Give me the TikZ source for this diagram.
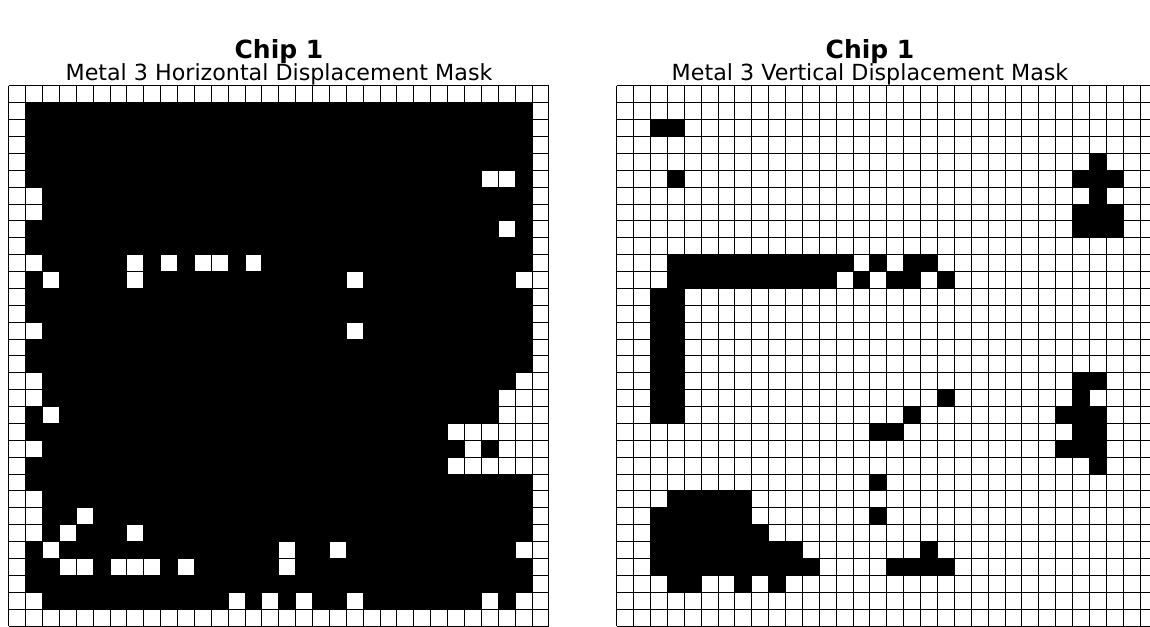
\documentclass[tikz,border=0pt]{standalone}
\usepackage{fontspec}
\setmainfont{DejaVu Sans}
\begin{document}
\begin{tikzpicture}[x=1pt,y=-1pt,
  gridline/.style={line width=0.9pt, draw=black},
  titletext/.style={font=\bfseries\fontsize{25}{28}\selectfont, text=black, anchor=base, inner sep=0pt},
  subtext/.style={font=\fontsize{22.2}{25}\selectfont, text=black, anchor=base, inner sep=0pt}]
\useasboundingbox (0,0) rectangle (1150,626);
\clip (0,0) rectangle (1150,626);
\def\cs{16.88}
% ---------- left grid ----------
\begin{scope}[shift={(8.7,85.8)}]
  \fill[black] (\cs,\cs) rectangle (31*\cs,31*\cs);
  \foreach \r/\c in {5/28,5/29,6/1,7/1,8/29,
     10/1,10/7,10/9,10/11,10/12,10/14,
     11/2,11/7,11/20,11/30,14/1,14/20,
     17/1,17/30,18/1,18/29,18/30,19/2,19/29,19/30,
     20/26,20/27,20/28,20/29,20/30,
     21/1,21/27,21/29,21/30,
     22/26,22/27,22/28,22/29,22/30,
     24/1,25/1,25/4,26/1,26/3,26/7,
     27/2,27/16,27/19,27/30,
     28/3,28/4,28/6,28/7,28/8,28/10,28/16,
     30/1,30/13,30/15,30/17,30/20,30/28,30/30}
    \fill[white] (\c*\cs,\r*\cs) rectangle ++(\cs,\cs);
  \foreach \i in {0,...,32} {
    \draw[gridline] (\i*\cs,0) -- (\i*\cs,32*\cs);
    \draw[gridline] (0,\i*\cs) -- (32*\cs,\i*\cs);
  }
\end{scope}
% ---------- right grid ----------
\begin{scope}[shift={(616.7,85.8)}]
  \foreach \r/\a/\b in {2/2/3,4/28/28,5/3/3,5/27/29,6/28/28,7/27/29,8/27/29,
     10/3/13,10/15/15,10/17/18,
     11/3/12,11/14/14,11/16/17,11/19/19,
     12/2/3,13/2/3,14/2/3,15/2/3,16/2/3,
     17/2/3,17/27/28,18/2/3,18/19/19,18/27/27,
     19/2/3,19/17/17,19/26/28,
     20/15/16,20/27/28,21/26/28,22/28/28,23/15/15,
     24/3/7,25/2/7,25/15/15,26/2/8,27/2/10,27/18/18,
     28/2/11,28/16/19,29/3/4,29/7/7,29/9/9}
    \fill[black] (\a*\cs,\r*\cs) rectangle (\b*\cs+\cs,\r*\cs+\cs);
  \foreach \i in {0,...,32} {
    \draw[gridline] (\i*\cs,0) -- (\i*\cs,32*\cs);
    \draw[gridline] (0,\i*\cs) -- (32*\cs,\i*\cs);
  }
\end{scope}
% ---------- titles ----------
\node[titletext] (t1) at (279,59) {Chip 1};
\node[subtext] (s1) at (279,80) {Metal 3 Horizontal Displacement Mask};
\node[titletext] (t2) at (870,59) {Chip 1};
\node[subtext] (s2) at (870,80) {Metal 3 Vertical Displacement Mask};
\end{tikzpicture}
\end{document}
